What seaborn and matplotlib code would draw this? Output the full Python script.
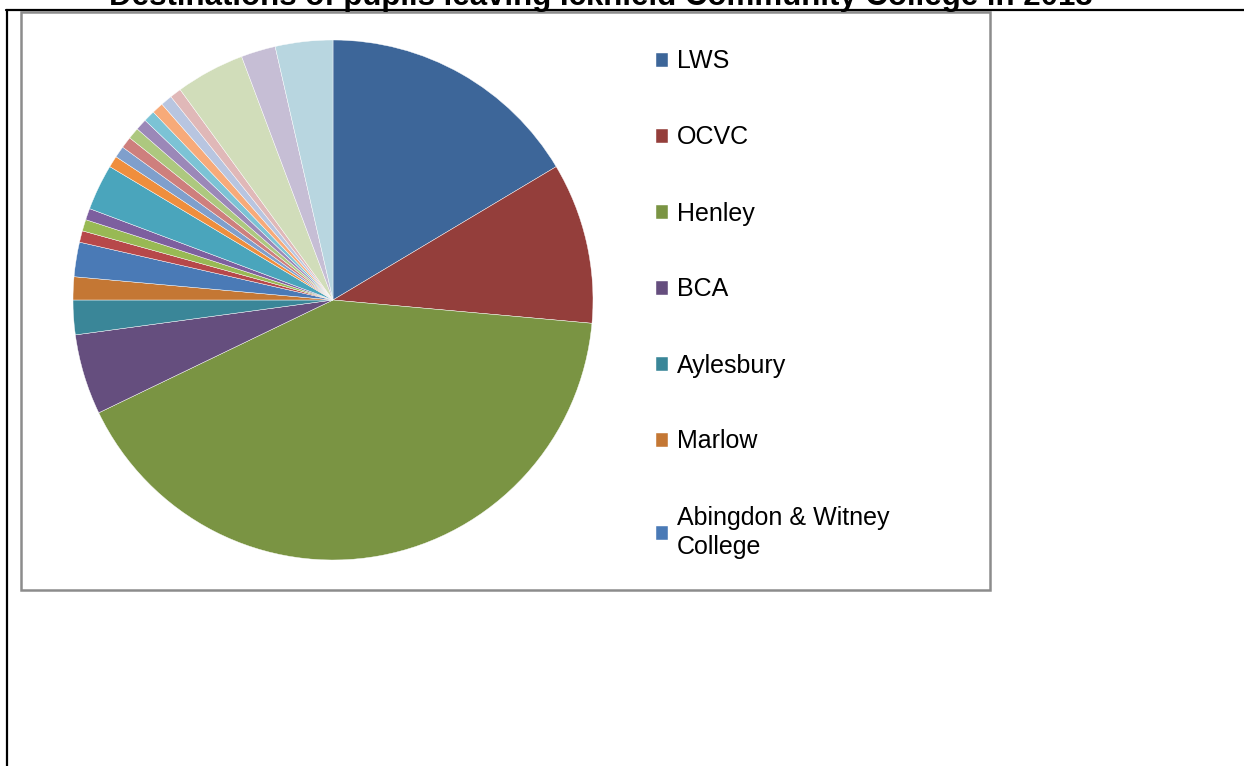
import matplotlib
matplotlib.use('Agg')
import matplotlib.pyplot as plt
import seaborn as sns
from matplotlib.patches import Rectangle
from matplotlib.lines import Line2D

sns.set_theme(style='white')
plt.rcParams['font.family'] = ['Liberation Sans', 'DejaVu Sans']

# pupil numbers per destination (clockwise from 12 o'clock)
named = ['LWS', 'OCVC', 'Henley', 'BCA', 'Aylesbury', 'Marlow',
         'Abingdon & Witney\nCollege']
others = [f'Destination {i}' for i in range(8, 24)]
destinations = named + others
pupils = [23, 14, 58, 7, 3, 2, 3, 1, 1, 1, 4,
          1, 1, 1, 1, 1, 1, 1, 1, 1, 6, 3, 5]

colours = ['#3D6699', '#943E3B', '#7A9443', '#654E7E', '#3A8698', '#C47734',
           '#4A7AB6', '#B7484A', '#98B954', '#7D5F9F', '#4AA5BC', '#EF8E3D',
           '#7F9FCC', '#CE7F7D', '#ADC87F', '#9B88B8', '#7CC3D5', '#F7AA79',
           '#B8C5E0', '#E0B8B8', '#D1DDBA', '#C6BED5', '#B8D6E0']

title = 'Destinations of pupils leaving Icknield Community College in 2013'

W, H = 1244, 766
fig = plt.figure(figsize=(W / 100, H / 100), dpi=100)
fig.patch.set_facecolor('white')

# page frame lines and chart border
fig.add_artist(Line2D([6 / W, 1], [1 - 10 / H, 1 - 10 / H], color='black', lw=1.6,
                      transform=fig.transFigure))
fig.add_artist(Line2D([7 / W, 7 / W], [0, 1 - 10 / H], color='black', lw=1.6,
                      transform=fig.transFigure))
fig.add_artist(Rectangle((21 / W, 1 - 590 / H), 969 / W, 578 / H, fill=False,
                         edgecolor='#8C8C8C', lw=1.8, transform=fig.transFigure))

fig.text(601 / W, 1 - 5 / H, title, ha='center', va='baseline',
         fontsize=22.5, fontweight='bold', color='black')

ax = fig.add_axes([73 / W, 1 - 560 / H, 520 / W, 520 / H])
wedges, _ = ax.pie(pupils, colors=colours, startangle=90, counterclock=False,
                   radius=1, wedgeprops=dict(edgecolor='white', linewidth=0.3))
ax.set_xlim(-1, 1)
ax.set_ylim(-1, 1)
ax.set_aspect('equal')
ax.axis('off')

leg = fig.legend(wedges[:7], destinations[:7], loc='upper left',
                 bbox_to_anchor=(643 / W, 1 - 37 / H), frameon=False,
                 fontsize=18, labelspacing=2.08, handlelength=0.5,
                 handleheight=0.5, handletextpad=0.35, borderpad=0)
for t in leg.get_texts():
    t.set_color('black')
    t.set_linespacing(1.3)

fig.savefig('out.png', dpi=100)
